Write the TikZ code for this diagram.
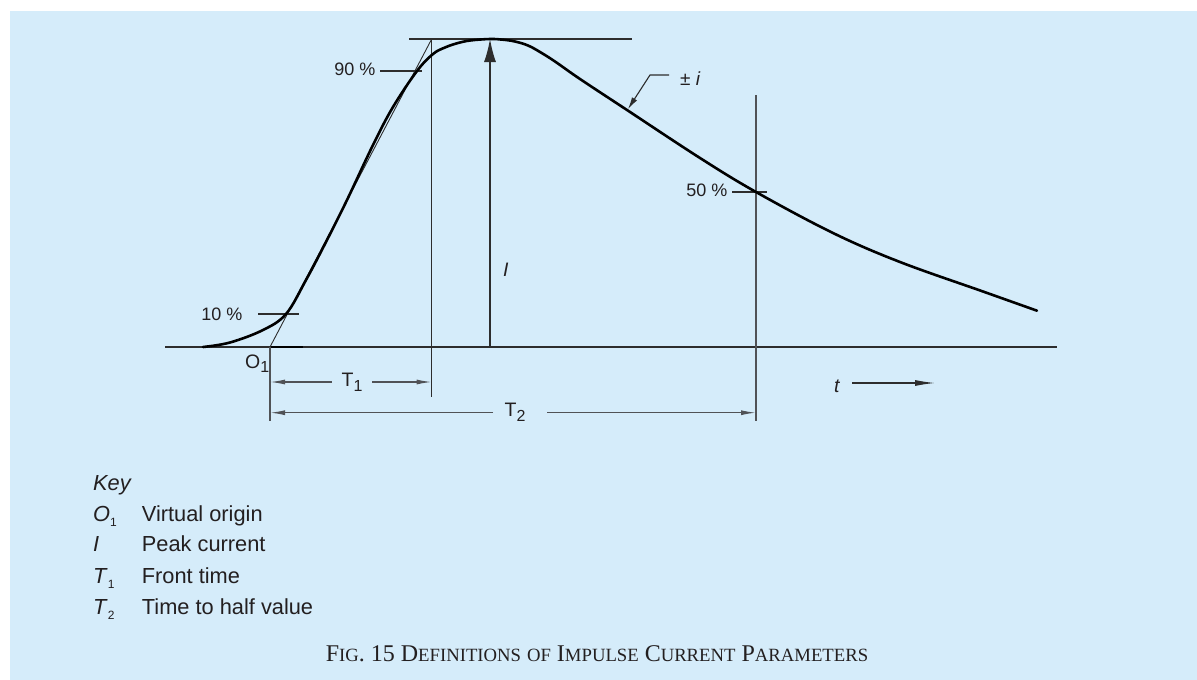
\documentclass[tikz,border=0pt]{standalone}
\usepackage{fontspec}
\setmainfont{Liberation Sans}
\newfontfamily\capfont{Liberation Serif}
\usetikzlibrary{arrows.meta}
\definecolor{bgblue}{RGB}{213,236,250}
\definecolor{ink}{RGB}{35,31,32}
\definecolor{thin}{RGB}{45,45,45}
\definecolor{dimgray}{RGB}{80,82,86}
\newcommand{\kcap}[1]{{\fontsize{18.7}{22}\selectfont #1}}
\begin{document}
\begin{tikzpicture}[x=1pt,y=-1pt,
  thinline/.style={draw=thin, line width=1.1pt},
  dimline/.style={draw=dimgray, line width=1.3pt},
  curveline/.style={draw=black, line width=2.6pt, line cap=round},
  lbl/.style={font=\fontsize{18}{20}\selectfont, inner sep=0pt, text=ink},
  sym/.style={font=\fontsize{19.5}{22}\selectfont, inner sep=0pt, text=ink, anchor=base west},
  keytxt/.style={font=\fontsize{21.8}{24}\selectfont, inner sep=0pt, text=ink, anchor=base west},
  dimarrow/.style={-{Latex[length=15pt,width=5pt]}},
]
% background
\path[use as bounding box, fill=white] (0,0) rectangle (1197,680);
\fill[bgblue] (10,11) rectangle (1197,680);

% named points
\coordinate (axL) at (165,347);
\coordinate (axR) at (1057,347);
\coordinate (O) at (270,347);
\coordinate (Othick) at (303,347);
\coordinate (Obot) at (270,421);
\coordinate (Pk) at (490,39);
\coordinate (Pk0) at (490,347);
\coordinate (topL) at (409,39);
\coordinate (topR) at (632,39);
\coordinate (T1top) at (431.7,39);
\coordinate (T1bot) at (431.7,397);
\coordinate (H50top) at (756,95);
\coordinate (H50bot) at (756,421);
\coordinate (t90a) at (380,71);
\coordinate (t90b) at (422,71);
\coordinate (t10a) at (258,314);
\coordinate (t10b) at (299,314);
\coordinate (t50a) at (732,192);
\coordinate (t50b) at (767,192);
\coordinate (ldA) at (669,75);
\coordinate (ldB) at (650,75);
\coordinate (ldC) at (628,109);
\coordinate (T1L) at (270,382);
\coordinate (T1R) at (431.7,382);
\coordinate (T1gL) at (331.7,382);
\coordinate (T1gR) at (372,382);
\coordinate (T2L) at (270,412.7);
\coordinate (T2R) at (756,412.7);
\coordinate (T2gL) at (493,412.7);
\coordinate (T2gR) at (547,412.7);
\coordinate (tA) at (852,383);
\coordinate (tB) at (935,383);

% axis and construction lines
\draw[thinline] (axL) -- (axR);
\draw[line width=2.2pt, draw=black] (O) -- (Othick);
\draw[thinline] (topL) -- (topR);
\draw[thinline, line width=0.9pt] (O) -- (T1top);
\draw[thinline] (T1top) -- (T1bot);
\draw[dimline] (H50top) -- (H50bot);
\draw[dimline] (O) -- (Obot);
\draw[thinline] (t90a) -- (t90b);
\draw[thinline] (t10a) -- (t10b);
\draw[thinline] (t50a) -- (t50b);

% peak arrow
\draw[thinline, line width=1.3pt, -{Latex[length=23pt,width=12pt]}] (Pk0) -- (Pk);

% the impulse curve
\draw[curveline] plot[smooth, tension=0.6] coordinates {
  (203,347) (230,342.5) (263,330) (286,314) (306,280) (327,240) (347,200)
  (373,145) (393,107) (417,71) (433,54) (445,47.5) (457,43.3) (470,40.5)
  (490,39) (503,39.7) (515,41.5) (528,45.5) (540,52) (555,61.5) (580,79)
  (627,110) (700,158) (756,192) (833,233) (900,262)
  (983,291.5) (1037,310.7)};

% leader to curve
\draw[thinline, -{Latex[length=12pt,width=6pt]}] (ldA) -- (ldB) -- (ldC);

% dimension lines
\draw[dimline, dimarrow] (T1gL) -- (T1L);
\draw[dimline, dimarrow] (T1gR) -- (T1R);
\draw[dimline, dimarrow] (T2gL) -- (T2L);
\draw[dimline, dimarrow] (T2gR) -- (T2R);
\draw[thinline, -{Latex[length=20pt,width=6pt]}] (tA) -- (tB);

% labels on the diagram
\node[lbl, anchor=east] (l90) at (375.5,69) {90 \%};
\node[lbl, anchor=east] (l10) at (242.5,314) {10 \%};
\node[lbl, anchor=east] (l50) at (727.5,190.5) {50 \%};
\node[lbl, anchor=base west, font=\fontsize{19}{21}\selectfont] (lpm) at (680,85) {± \textit{i}};
\node[sym, anchor=base west] (lI) at (503,276) {\textit{I}};
\node[sym] (lO) at (245,368) {O\raisebox{-4.5pt}{\fontsize{16}{16}\selectfont 1}};
\node[sym] (lT1) at (341.5,386.7) {T\raisebox{-5pt}{\fontsize{16}{16}\selectfont 1}};
\node[sym] (lT2) at (504.5,416) {T\raisebox{-5.5pt}{\fontsize{16}{16}\selectfont 2}};
\node[sym] (lt) at (834,392.5) {\textit{t}};

% key
\node[keytxt] (kKey) at (93,490) {\textit{Key}};
\node[keytxt] (kO) at (93,521) {\textit{O}\raisebox{-5pt}{\fontsize{12}{12}\selectfont 1}};
\node[keytxt] (kOd) at (141.7,521) {Virtual origin};
\node[keytxt] (kI) at (93,551.7) {\textit{I}};
\node[keytxt] (kId) at (141.7,551.7) {Peak current};
\node[keytxt] (kT1) at (93,583) {\textit{T}\raisebox{-5pt}{\fontsize{12}{12}\selectfont 1}};
\node[keytxt] (kT1d) at (141.7,583) {Front time};
\node[keytxt] (kT2) at (93,614) {\textit{T}\raisebox{-5pt}{\fontsize{12}{12}\selectfont 2}};
\node[keytxt] (kT2d) at (141.7,614) {Time to half value};

% caption
\node[inner sep=0pt, anchor=base, text=ink, font=\capfont\fontsize{24}{28}\selectfont] (cap) at (597,661)
  {F\kcap{IG}. 15 D\kcap{EFINITIONS} \kcap{OF} I\kcap{MPULSE} C\kcap{URRENT} P\kcap{ARAMETERS}};
\end{tikzpicture}
\end{document}
